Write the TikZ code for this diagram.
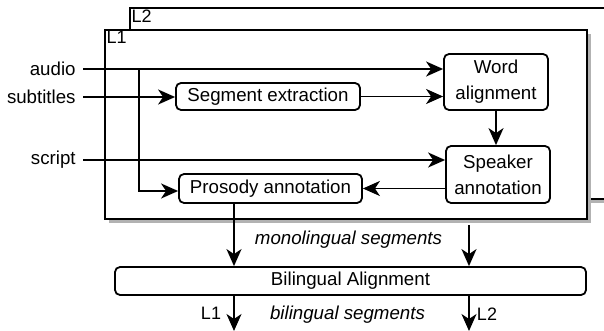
\documentclass[tikz,border=0pt]{standalone}
\usepackage{fontspec}
\setmainfont{Liberation Sans}
\usepackage{tikz}
\usetikzlibrary{arrows.meta}
\usetikzlibrary{positioning}

\tikzset{
    box/.style={draw, line width=0.9pt, rounded corners=2.5pt, align=center, inner sep=0pt},
    frame/.style={draw, line width=0.9pt, fill=white, inner sep=0pt},
    frameshadow/.style={fill=black!30, draw=none},
    flow/.style={line width=0.9pt, -{Stealth[length=8.5pt, width=7.5pt, inset=2.5pt]}},
    input/.style={anchor=east, inner xsep=3.5pt, inner ysep=0pt},
    tag/.style={font=\fontsize{9}{10}\selectfont, inner sep=1pt}
}

\begin{document}
\begin{tikzpicture}[x=0.5pt, y=-0.5pt, font=\fontsize{9.35}{13}\selectfont]
    \useasboundingbox (0,0) rectangle (604,331);

    % language frames (with their shadows)
    \path[frameshadow] (134,12) rectangle (610,203);
    \node[frame, minimum width=238pt, minimum height=95.5pt] (l2frame) at (368,103.5) {};
    \node[tag, anchor=north west] (l2) at (l2frame.north west) {L2};
    \path[frameshadow] (109,34) rectangle (591,223);
    \node[frame, minimum width=241pt, minimum height=94.5pt] (l1frame) at (346,124.5) {};
    \node[tag, anchor=north west] (l1) at (l1frame.north west) {L1};

    % inputs
    \node[input] (audio) at (83,69) {audio};
    \node[input] (subs) at (83,97) {subtitles};
    \node[input] (script) at (83,160) {script};

    % steps
    \node[box, minimum width=92pt, minimum height=13.5pt] (seg) at (268,96.5) {Segment extraction};
    \node[box, minimum width=52pt, minimum height=28pt] (word) at (496,82) {Word\\alignment};
    \node[box, minimum width=52pt, minimum height=28.5pt] (spk) at (498,174.5) {Speaker\\annotation};
    \node[box, minimum width=91.5pt, minimum height=14.5pt] (pros) at (270.5,188.5) {Prosody annotation};
    \node[box, minimum width=235.5pt, minimum height=14pt] (bil) at (350.5,281) {Bilingual Alignment};

    \coordinate (split) at (139,69);
    \coordinate (m2) at (469,225);
    \coordinate (o1) at (234,331);
    \coordinate (o2) at (469,331);

    \draw[flow] (audio.east) -- (word.west |- audio.east);
    \draw[flow] (split) |- ([yshift=-1.25pt]pros.west);
    \draw[flow] (subs.east) -- (seg.west |- subs.east);
    \draw[flow] (seg.east) -- (word.west |- seg.east);
    \draw[flow] (script.east) -- (spk.west |- script.east);
    \draw[flow] (word.south) -- (word.south |- spk.north);
    \draw[flow] (spk.west |- pros.east) -- (pros.east);

    \draw[flow] (pros.south -| o1) -- (bil.north -| o1);
    \draw[flow] (m2) -- (bil.north -| m2);
    \node[font=\fontsize{9.35}{13}\selectfont\itshape] (mono) at (348.5,240) {monolingual segments};

    \draw[flow] (bil.south -| o1) -- (o1);
    \draw[flow] (bil.south -| o2) -- (o2);
    \node[tag] (out1) at (211,313) {L1};
    \node[tag] (out2) at (487,314) {L2};
    \node[font=\fontsize{9.35}{13}\selectfont\itshape] (bilseg) at (347.5,315) {bilingual segments};
\end{tikzpicture}
\end{document}
